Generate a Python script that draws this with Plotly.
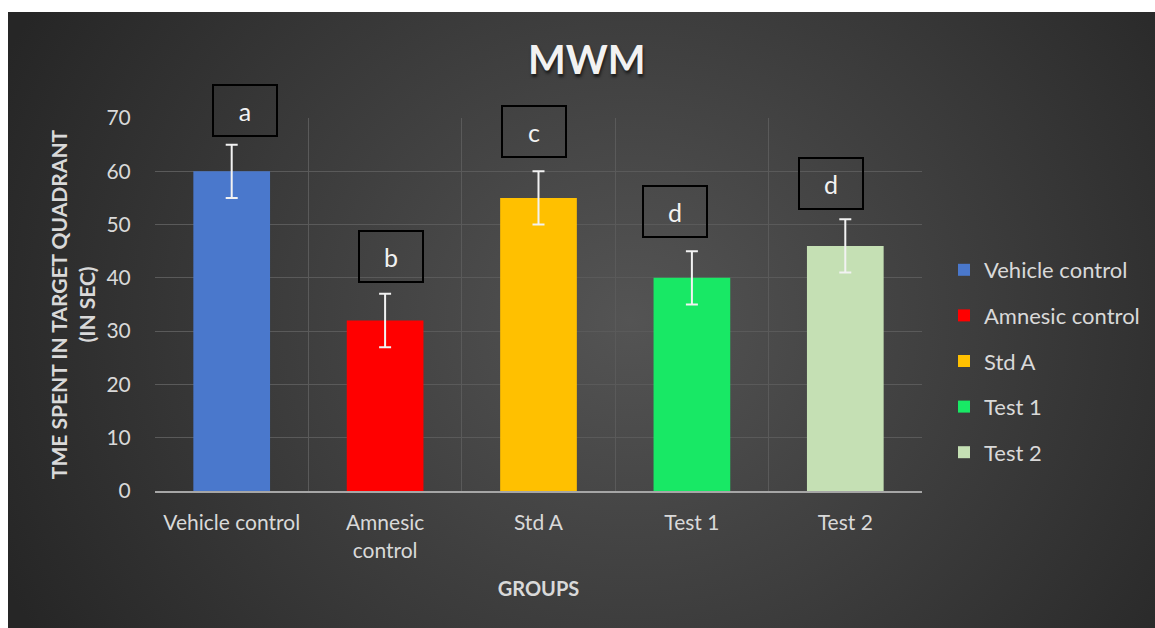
import base64
import plotly.graph_objects as go

# ---- data ----
groups = ["Vehicle control", "Amnesic control", "Std A", "Test 1", "Test 2"]
tick_text = ["Vehicle control", "Amnesic<br>control", "Std A", "Test 1", "Test 2"]
means = [60, 32, 55, 40, 46]
errors = [5, 5, 5, 5, 5]
letters = ["a", "b", "c", "d", "d"]

colors = ["#4a78cc", "#ff0000", "#ffc000", "#18e865", "#c5e0b4"]
# label box offsets (pixels) relative to the top of each error bar
box_dx = [13, 6, -5, -17, -14]
box_dy = [8, 11, 13, 13, 9]

W, H = 1155, 628
L, R, T, B = 155, 233, 118, 137
pw, ph = W - L - R, H - T - B

# dark radial background panel
bx0, by0 = 8, 12
bw, bh = W - bx0, H - by0
svg = f'''<svg xmlns="http://www.w3.org/2000/svg" width="{bw}" height="{bh}" viewBox="0 0 {bw} {bh}">
<defs><radialGradient id="g" gradientUnits="userSpaceOnUse" cx="0" cy="0" r="1"
 gradientTransform="matrix(690 0 0 620 622 308)">
<stop offset="0" stop-color="#545454"/><stop offset="1" stop-color="#262626"/>
</radialGradient></defs>
<rect width="{bw}" height="{bh}" fill="url(#g)"/></svg>'''
bg_src = "data:image/svg+xml;base64," + base64.b64encode(svg.encode()).decode()

font = "Lato, 'Open Sans', sans-serif"
txt = "#d9d9d9"

fig = go.Figure()
for g, m, e, c in zip(groups, means, errors, colors):
    fig.add_trace(go.Bar(
        x=[g], y=[m], name=g, width=0.5, marker=dict(color=c, line=dict(width=0)),
        error_y=dict(type="data", array=[e], color="#f2f2f2", thickness=2, width=6),
        legendgroup=g,
    ))

for g, m, e, lt, dx, dy in zip(groups, means, errors, letters, box_dx, box_dy):
    fig.add_annotation(
        x=g, y=m + e, xref="x", yref="y", text=lt, showarrow=False,
        xanchor="center", yanchor="bottom", xshift=dx, yshift=dy,
        width=62, height=49, borderwidth=2, borderpad=0, bordercolor="#000000",
        font=dict(family=font, size=25, color="#f2f2f2"),
    )

fig.add_layout_image(
    source=bg_src, xref="paper", yref="paper",
    x=(bx0 - L) / pw, y=(H - B - by0) / ph,
    sizex=bw / pw, sizey=bh / ph, sizing="stretch",
    xanchor="left", yanchor="top", layer="below",
)

fig.update_layout(
    width=W, height=H,
    margin=dict(l=L, r=R, t=T, b=B, autoexpand=False),
    paper_bgcolor="#ffffff", plot_bgcolor="rgba(0,0,0,0)",
    barmode="overlay",
    title=dict(text="<b>MWM</b>", x=0.508, xref="container", xanchor="center",
               y=1 - 60 / H, yanchor="middle",
               font=dict(family=font, size=40, color="#f2f2f2",
                         shadow="1px 3px 3px rgba(0,0,0,0.6)")),
    legend=dict(x=(944 - L) / pw, xanchor="left", y=(H - B - 361) / ph, yanchor="middle",
                font=dict(family=font, size=22, color=txt), tracegroupgap=14,
                bgcolor="rgba(0,0,0,0)", traceorder="grouped"),
    showlegend=True,
)

fig.update_xaxes(
    automargin=False, tickangle=0,
    tickson="boundaries", ticks="", ticklabelstandoff=12,
    tickvals=groups, ticktext=tick_text,
    showgrid=True, gridcolor="#5a5a5a", gridwidth=1,
    showline=True, linecolor="#a6a6a6", linewidth=2,
    tickfont=dict(family=font, size=21, color=txt),
    title=dict(text="<b>GROUPS</b>", font=dict(family=font, size=20, color=txt), standoff=21),
)
fig.update_yaxes(
    automargin=False,
    range=[0, 70], dtick=10, showgrid=True, gridcolor="#5a5a5a", gridwidth=1,
    zeroline=False, showline=False,
    ticks="outside", ticklen=19, tickcolor="rgba(0,0,0,0)",
    tickfont=dict(family=font, size=21, color=txt),
    title=dict(text="<b>TME SPENT IN TARGET QUADRANT<br>(IN SEC)</b>",
               font=dict(family=font, size=21, color=txt), standoff=5),
)

fig.write_html("out.html")
